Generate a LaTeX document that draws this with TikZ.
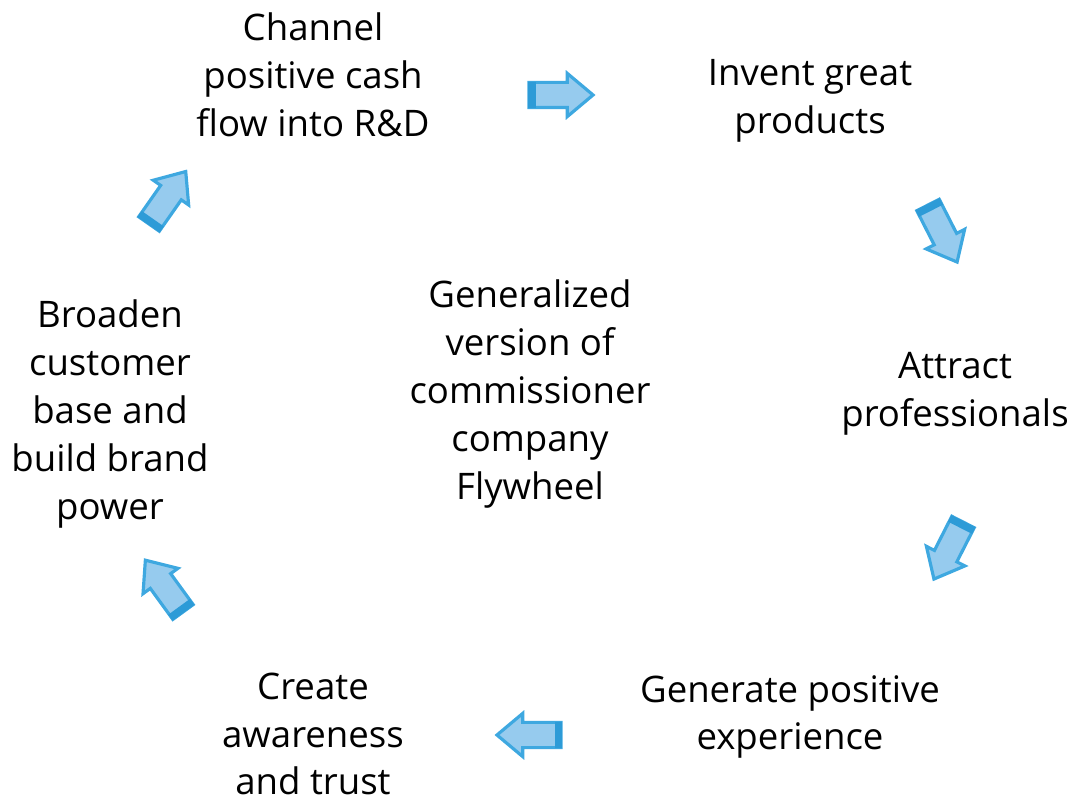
\documentclass[tikz,border=0pt]{standalone}
\usepackage{fontspec}
\setmainfont{Open Sans}
\usetikzlibrary{shapes.arrows,calc}
\definecolor{arrfill}{RGB}{150,203,238}
\definecolor{arrline}{RGB}{62,168,224}
\definecolor{arrband}{RGB}{45,155,215}
\tikzset{
  step label/.style={align=center, font=\fontsize{10.4pt}{13.6pt}\selectfont},
  flow arrow/.style={single arrow, draw=arrline, fill=arrfill, line width=0.9pt,
    inner xsep=0pt, inner ysep=0.11cm, outer sep=0pt, minimum height=0.64cm,
    minimum width=0.40cm, single arrow head extend=0.09cm, single arrow tip angle=80,
    anchor=tail}
}
\begin{document}
\begin{tikzpicture}[x=0.01cm, y=-0.01cm]
\useasboundingbox (0,0) rectangle (1083,801);
\node[step label] (rd) at (313,75) {Channel\\positive cash\\flow into R\&D};
\node[step label] (invent) at (810,101) {Invent great\\products};
\node[step label] (attract) at (955,394) {Attract\\professionals};
\node[step label] (experience) at (790,717) {Generate positive\\experience};
\node[step label] (trust) at (313,734) {Create\\awareness\\and trust};
\node[step label] (brand) at (110,414) {Broaden\\customer\\base and\\build brand\\power};
\node[step label] (center) at (530,394) {Generalized\\version of\\commissioner\\company\\Flywheel};
% block arrows round the wheel, placed by their tails
\node[flow arrow] (a1) at (529,95) {};
\node[flow arrow, rotate=-63] (a2) at (928,205) {};
\node[flow arrow, rotate=-117] (a3) at (963,522) {};
\node[flow arrow, rotate=180] (a4) at (561,735) {};
\node[flow arrow, rotate=126] (a5) at (183,612) {};
\node[flow arrow, rotate=55] (a6) at (149,224) {};
\foreach \a in {a1,a2,a3,a4,a5,a6}{
  \coordinate (\a m) at ($(\a.tail)!1.6pt!(\a.tip)$);
  \filldraw[arrband, line width=0.5pt] (\a.before tail) -- (\a.after tail)
    -- ($(\a m)+(\a.after tail)-(\a.tail)$) -- ($(\a m)+(\a.before tail)-(\a.tail)$) -- cycle;
}
\end{tikzpicture}
\end{document}
